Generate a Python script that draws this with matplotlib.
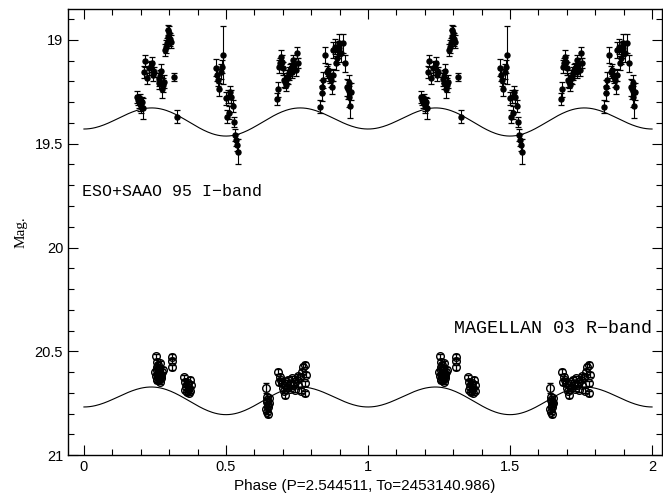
import numpy as np
import matplotlib.pyplot as plt
from matplotlib.ticker import MultipleLocator

# ESO+SAAO 95 I-band (phase, mag, error)
i_phase = [0.186, 0.190, 0.193, 0.196, 0.199, 0.202, 0.205, 0.208,
           0.215, 0.211, 0.223, 0.228, 0.235, 0.239, 0.247, 0.242, 0.263, 0.266, 0.271, 0.278, 0.276, 0.282, 0.268,
           0.286, 0.289, 0.291, 0.295, 0.299, 0.303, 0.306, 0.297,
           0.318, 0.326,
           0.465, 0.467, 0.471, 0.475, 0.482, 0.487, 0.491, 0.499, 0.502, 0.508, 0.514, 0.518, 0.524, 0.512,
           0.528, 0.532, 0.535, 0.538, 0.541,
           0.681, 0.684, 0.688, 0.690, 0.694, 0.696, 0.700, 0.704, 0.708, 0.711, 0.714, 0.717, 0.721, 0.725,
           0.729, 0.734, 0.737, 0.741, 0.745, 0.749, 0.752,
           0.831, 0.837, 0.839, 0.843, 0.849, 0.855, 0.858, 0.863, 0.866, 0.870, 0.872, 0.876, 0.878, 0.884,
           0.887, 0.890, 0.893, 0.897, 0.899, 0.905, 0.913, 0.919, 0.925, 0.928, 0.932, 0.937, 0.940, 0.934]
i_mag = [19.275, 19.290, 19.300, 19.285, 19.310, 19.320, 19.300, 19.330,
         19.101, 19.153, 19.185, 19.137, 19.128, 19.112, 19.153, 19.169, 19.190, 19.209, 19.148, 19.217, 19.238, 19.201, 19.175,
         19.048, 19.032, 19.013, 18.984, 18.968, 18.997, 19.008, 18.952,
         19.180, 19.369,
         19.133, 19.169, 19.193, 19.238, 19.153, 19.128, 19.072, 19.281, 19.369, 19.273, 19.249, 19.273, 19.318, 19.350,
         19.394, 19.458, 19.482, 19.506, 19.538,
         19.284, 19.238, 19.128, 19.112, 19.080, 19.104, 19.137, 19.193, 19.201, 19.217, 19.177, 19.185, 19.161, 19.145,
         19.137, 19.153, 19.096, 19.120, 19.145, 19.061, 19.112,
         19.321, 19.257, 19.225, 19.193, 19.072, 19.153, 19.145, 19.169, 19.177, 19.193, 19.228, 19.169, 19.048, 19.032,
         19.112, 19.088, 19.048, 19.040, 19.013, 19.064, 19.016, 19.112, 19.228, 19.238, 19.273, 19.318, 19.249, 19.209]
i_err = [0.030, 0.025, 0.030, 0.025, 0.030, 0.030, 0.025, 0.050,
         0.030, 0.030, 0.025, 0.030, 0.025, 0.030, 0.025, 0.030, 0.030, 0.025, 0.030, 0.035, 0.040, 0.030, 0.030,
         0.030, 0.030, 0.025, 0.030, 0.035, 0.030, 0.030, 0.025,
         0.020, 0.030,
         0.040, 0.030, 0.030, 0.030, 0.035, 0.030, 0.140, 0.030, 0.030, 0.030, 0.025, 0.030, 0.030, 0.030,
         0.025, 0.030, 0.030, 0.030, 0.060,
         0.030, 0.035, 0.030, 0.025, 0.030, 0.030, 0.030, 0.035, 0.030, 0.030, 0.030, 0.025, 0.030, 0.030,
         0.025, 0.030, 0.025, 0.030, 0.030, 0.025, 0.025,
         0.030, 0.035, 0.030, 0.040, 0.040, 0.030, 0.030, 0.030, 0.030, 0.035, 0.030, 0.030, 0.040, 0.035,
         0.035, 0.030, 0.040, 0.035, 0.040, 0.040, 0.045, 0.040, 0.040, 0.045, 0.050, 0.060, 0.040, 0.040]

# MAGELLAN 03 R-band (phase, mag)
r_phase = [0.254, 0.256, 0.258, 0.251, 0.261, 0.265, 0.268, 0.263, 0.256, 0.270, 0.274, 0.265, 0.277, 0.258,
           0.262, 0.254, 0.271, 0.268, 0.260, 0.266, 0.272, 0.257,
           0.311, 0.311, 0.311,
           0.352, 0.356, 0.359, 0.362, 0.365, 0.369, 0.373, 0.377, 0.371, 0.356, 0.363, 0.375,
           0.640,
           0.643, 0.646, 0.648, 0.644, 0.649, 0.651, 0.647, 0.642, 0.645, 0.650,
           0.684, 0.690, 0.696, 0.702, 0.708, 0.714, 0.720, 0.725, 0.731, 0.737, 0.743, 0.749, 0.755, 0.761,
           0.766, 0.772, 0.778, 0.782, 0.779, 0.778, 0.694, 0.705, 0.716, 0.727, 0.740, 0.752, 0.764, 0.688]
r_mag = [20.523, 20.550, 20.574, 20.598, 20.606, 20.582, 20.558, 20.622, 20.635, 20.614, 20.598, 20.638, 20.590,
         20.590, 20.566, 20.619, 20.630, 20.646, 20.610, 20.600, 20.620, 20.640,
         20.526, 20.545, 20.577,
         20.625, 20.646, 20.670, 20.694, 20.654, 20.678, 20.638, 20.662, 20.699, 20.686, 20.660, 20.690,
         20.678,
         20.719, 20.743, 20.767, 20.791, 20.803, 20.727, 20.759, 20.780, 20.735, 20.750,
         20.598, 20.622, 20.654, 20.678, 20.711, 20.670, 20.638, 20.662, 20.630, 20.662, 20.686, 20.638, 20.662,
         20.622, 20.598, 20.574, 20.566, 20.614, 20.654, 20.703, 20.640, 20.690, 20.650, 20.680, 20.650, 20.620,
         20.690, 20.650]
r_err = [0.012] * len(r_mag)
r_err[37] = 0.025

# fitted model curves (mean, 2nd harmonic, 1st harmonic)
i_model = [19.387, 0.059, -0.017]
r_model = [20.730, 0.057, -0.0185]

fig, ax = plt.subplots(figsize=(6.63, 5.04), dpi=100)
fig.subplots_adjust(left=0.1026, right=0.9985, top=0.982, bottom=0.0972)

for k in [0, 1]:
    ax.errorbar(np.array(i_phase) + k, i_mag, yerr=i_err, fmt='o', color='black', ms=3.6,
                elinewidth=0.8, capsize=2.5, capthick=0.9)
    ax.errorbar(np.array(r_phase) + k, r_mag, yerr=r_err, fmt='o', color='black', mfc='none', ms=5.5,
                mew=1.0, elinewidth=0.9, capsize=2.5, capthick=0.9)

ph = np.linspace(0, 2, 400)
for c, a, b in [i_model, r_model]:
    ax.plot(ph, c + a * np.cos(4 * np.pi * ph) + b * np.cos(2 * np.pi * ph), color='black', lw=0.8)

ax.set_xlim(-0.056, 2.035)
ax.set_ylim(21, 18.851)
ax.xaxis.set_major_locator(MultipleLocator(0.5))
ax.xaxis.set_minor_locator(MultipleLocator(0.1))
ax.yaxis.set_major_locator(MultipleLocator(0.5))
ax.yaxis.set_minor_locator(MultipleLocator(0.1))
ax.xaxis.set_major_formatter(plt.FuncFormatter(lambda v, p: '%g' % v))
ax.yaxis.set_major_formatter(plt.FuncFormatter(lambda v, p: '%g' % v))
ax.tick_params(which='both', direction='in', top=True, right=True, labelsize=10.5, width=0.8)
ax.tick_params(which='major', length=7)
ax.tick_params(which='minor', length=4)
for lab in ax.get_xticklabels() + ax.get_yticklabels():
    lab.set_family('Liberation Sans')
for s in ax.spines.values():
    s.set_linewidth(1.0)

ax.set_xlabel('Phase (P=2.544511, To=2453140.986)', family='Liberation Sans', fontsize=11, labelpad=4)
ax.set_ylabel('Mag.', family='Liberation Serif', fontsize=11, labelpad=5)

ax.text(-0.007, 19.73, 'ESO+SAAO 95 I\u2212band', family='Liberation Mono', fontsize=12, va='center', ha='left')
ax.text(2.0, 20.39, 'MAGELLAN 03 R\u2212band', family='Liberation Mono', fontsize=13.2, va='center', ha='right')

plt.savefig('out.png', dpi=100)
